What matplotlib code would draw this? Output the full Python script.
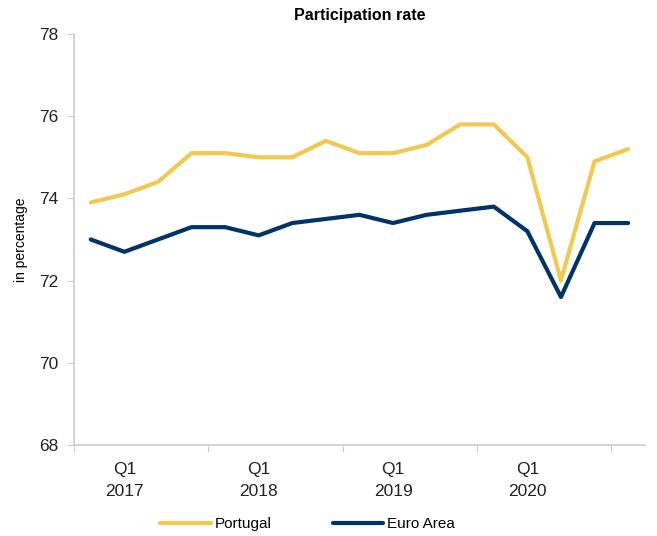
import numpy as np
import matplotlib
matplotlib.use('Agg')
import matplotlib.pyplot as plt

plt.rcParams['font.family'] = ['Liberation Sans', 'DejaVu Sans']

# quarters Q4 2016 .. Q4 2020
quarters = ['Q4 2016',
            'Q1 2017', 'Q2 2017', 'Q3 2017', 'Q4 2017',
            'Q1 2018', 'Q2 2018', 'Q3 2018', 'Q4 2018',
            'Q1 2019', 'Q2 2019', 'Q3 2019', 'Q4 2019',
            'Q1 2020', 'Q2 2020', 'Q3 2020', 'Q4 2020']
portugal = [73.9, 74.1, 74.4, 75.1, 75.1, 75.0, 75.0, 75.4, 75.1,
            75.1, 75.3, 75.8, 75.8, 75.0, 72.0, 74.9, 75.2]
euro_area = [73.0, 72.7, 73.0, 73.3, 73.3, 73.1, 73.4, 73.5, 73.6,
             73.4, 73.6, 73.7, 73.8, 73.2, 71.6, 73.4, 73.4]
year_labels = ['Q1\n2017', 'Q1\n2018', 'Q1\n2019', 'Q1\n2020']

x = np.arange(len(quarters))

fig = plt.figure(figsize=(6.57, 5.36), dpi=100)
ax = fig.add_axes([0.1126, 0.1698, 0.869, 0.7668])

ax.plot(x, portugal, color='#F2C851', lw=3, label='Portugal', solid_capstyle='round')
ax.plot(x, euro_area, color='#003366', lw=3, label='Euro Area', solid_capstyle='round')

ax.set_xlim(-0.5, len(quarters) - 0.5)
ax.set_ylim(68, 78)
ax.set_yticks(np.arange(68, 79, 2))

# year boundaries as major ticks, labels on the Q1 points
ax.set_xticks(np.arange(-0.5, len(quarters), 4))
ax.set_xticklabels([])
ax.set_xticks([1, 5, 9, 13], minor=True)
ax.set_xticklabels(year_labels, minor=True, linespacing=1.6)
ax.tick_params(axis='x', which='major', length=5, color='#cccccc')
ax.tick_params(axis='x', which='minor', length=0, pad=12, labelsize=12.5, labelcolor='#222222')
ax.tick_params(axis='y', length=5, color='#cccccc', labelsize=12.5, labelcolor='#222222', pad=6)

for s in ['top', 'right']:
    ax.spines[s].set_visible(False)
for s in ['left', 'bottom']:
    ax.spines[s].set_color('#cccccc')
    ax.spines[s].set_linewidth(1.2)

ax.set_title('Participation rate', fontsize=11.5, fontweight='bold', pad=10)
ax.set_ylabel('in percentage', fontsize=10, labelpad=8)

ax.legend(loc='center', bbox_to_anchor=(0.409, -0.192), ncol=2, frameon=False,
          fontsize=11, handlelength=3.3, columnspacing=4.0, handletextpad=0.25)

plt.savefig('out.png', dpi=100)
